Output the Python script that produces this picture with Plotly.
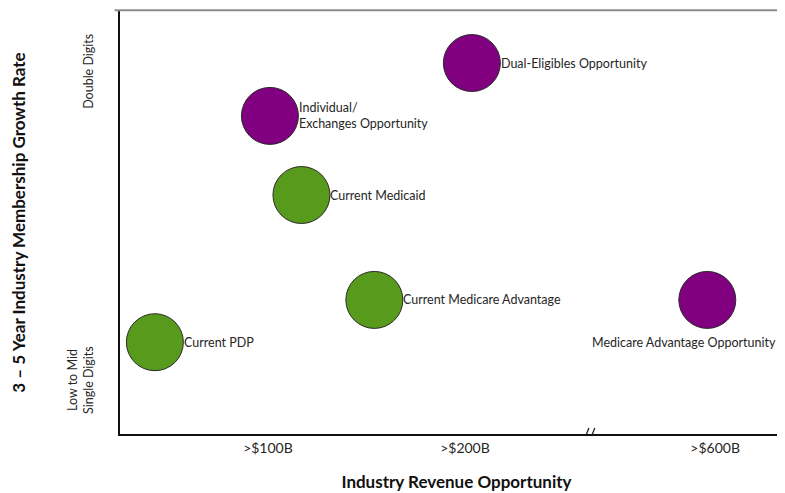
import plotly.graph_objects as go

# Data (x: revenue index, 1 = >$100B, 2 = >$200B, ~3.27 = >$600B after axis break; y: growth 0-10 scale)
current_names = ["Current PDP", "Current Medicaid", "Current Medicare Advantage"]
current_x = [0.426, 1.17, 1.54]
current_y = [2.17, 5.65, 3.17]

opp_names = ["Individual/<br>Exchanges Opportunity", "Dual-Eligibles Opportunity"]
opp_x = [1.01, 2.035]
opp_y = [7.52, 8.77]

ma_opp_name = "Medicare Advantage Opportunity"
ma_opp_x = [3.23]
ma_opp_y = [3.17]

x_tickvals = [1, 2, 3.27]
x_ticktext = [">$100B", ">$200B", ">$600B"]
y_tickvals = [1.23, 8.53]
y_ticktext = ["Low to Mid<br>Single Digits", "Double Digits"]
axis_break_x = 2.635

GREEN = "#589a1c"
PURPLE = "#800080"
FONT = "Lato"
TXT = "#262626"

fig = go.Figure()
marker_common = dict(size=57, line=dict(color="#2a2a2a", width=1))

fig.add_trace(go.Scatter(
    x=current_x, y=current_y, mode="markers", marker=dict(color=GREEN, **marker_common),
    text=current_names, hoverinfo="text", cliponaxis=False))
fig.add_trace(go.Scatter(
    x=opp_x + ma_opp_x, y=opp_y + ma_opp_y, mode="markers",
    marker=dict(color=PURPLE, **marker_common),
    text=opp_names + [ma_opp_name], hoverinfo="text", cliponaxis=False))

label_font = dict(family=FONT, size=12.5, color=TXT)
for name, xv, yv in zip(current_names + opp_names, current_x + opp_x, current_y + opp_y):
    fig.add_annotation(x=xv, y=yv, text=name, showarrow=False, xanchor="left",
                       align="left", xshift=27, font=label_font)

fig.add_annotation(x=ma_opp_x[0], y=ma_opp_y[0], text=ma_opp_name, showarrow=False,
                   xshift=-23, yshift=-43, font=label_font)

# top gray border
fig.add_shape(type="line", xref="paper", yref="paper", x0=-0.008, x1=1.0, y0=1.002, y1=1.002,
              line=dict(color="#8c8c8c", width=2))
# axis break marks
for dx in (-0.018, 0.012):
    fig.add_shape(type="line", xref="x", yref="y",
                  x0=axis_break_x + dx - 0.012, x1=axis_break_x + dx + 0.012,
                  y0=-0.14, y1=0.14, line=dict(color="#222", width=1.3))

fig.update_layout(
    width=785, height=493,
    margin=dict(l=112, r=0, t=3, b=67),
    paper_bgcolor="white", plot_bgcolor="white",
    showlegend=False,
    font=dict(family=FONT, color=TXT),
    xaxis=dict(range=[0.249, 3.665], showgrid=False, zeroline=False, automargin=False,
               showline=True, linecolor="#111", linewidth=2,
               tickvals=x_tickvals, ticktext=x_ticktext, ticks="",
               tickfont=dict(family=FONT, size=14, color=TXT),
               title=dict(text="<b>Industry Revenue Opportunity</b>",
                          font=dict(family=FONT, size=17, color="#111"), standoff=21)),
    yaxis=dict(range=[0, 10], showgrid=False, zeroline=False, automargin=False,
               showline=True, linecolor="#111", linewidth=2,
               tickvals=y_tickvals, ticktext=y_ticktext, tickangle=-90,
               ticks="outside", ticklen=20, tickcolor="rgba(0,0,0,0)",
               tickfont=dict(family=FONT, size=12.5, color=TXT),
               title=dict(text="<b>3 – 5 Year Industry Membership Growth Rate</b>",
                          font=dict(family=FONT, size=17, color="#111"), standoff=37)),
)

fig.write_html("out.html")
